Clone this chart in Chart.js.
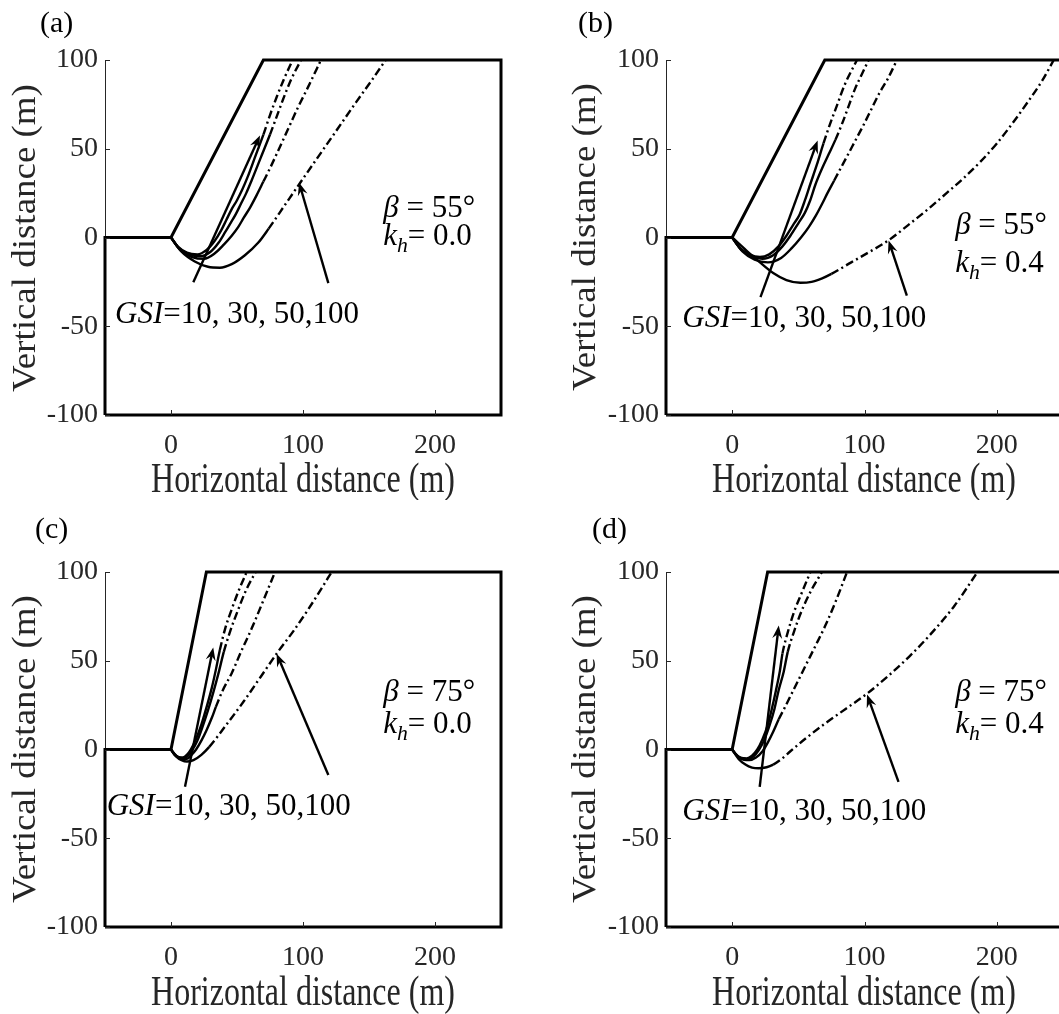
<!DOCTYPE html>
<html>
<head>
<meta charset="utf-8">
<script src="https://cdn.jsdelivr.net/npm/chart.js@4.4.1/dist/chart.umd.min.js"></script>
<style>
  html, body { margin: 0; padding: 0; overflow: hidden; background: #fff; }
  .panel { position: absolute; }
</style>
</head>
<body>
<div class="panel" style="left:0;top:0"><canvas id="ca"></canvas></div>
<div class="panel" style="left:530px;top:0"><canvas id="cb"></canvas></div>
<div class="panel" style="left:0;top:500px"><canvas id="cc"></canvas></div>
<div class="panel" style="left:530px;top:500px"><canvas id="cd"></canvas></div>
<script>
// ---- data (metres) ----
const panelNames = ['(a)', '(b)', '(c)', '(d)'];
const betaDeg = [55, 55, 75, 75];
const khValues = ['0.0', '0.4', '0.0', '0.4'];
const crestX = [70.0, 70.0, 26.8, 26.8];   // H / tan(beta), H = 100 m
const gsiValues = [10, 30, 50, 100];
const xTicks = [0, 100, 200];
const yTicks = [-100, -50, 0, 50, 100];

// slip surfaces: [x, y]
const slipA10 = [[0,0],[5,-5],[12,-8.5],[20,-9.5],[27,-7],[33,-2],[38,4],[42,10],[46,16],[50,21],[54,27],[58,34],[64,46],[70,58],[75,69],[80,79],[86,90],[92.2,100]];
const slipA30 = [[0,0],[6,-6],[14,-9.5],[22,-10.5],[30,-8],[36,-3],[41,3],[45,8],[49,13],[53,19],[57,25],[61,32],[68,45],[75,58],[80,68],[85,78],[91,89],[98.5,100]];
const slipA50 = [[0,0],[7,-7],[16,-11],[25,-12],[33,-9],[40,-4],[46,1],[51,6],[55,11],[60,17],[65,24],[70,31.5],[75,39],[80,47],[88,60],[96,73],[104,85],[113.6,100]];
const slipA100 = [[0,0],[8,-8],[18,-13.5],[28,-16.5],[37,-17],[46,-15],[56,-10],[66,-3],[74,5],[86,18],[98,31],[112,46],[126,61],[140,76],[152,88.5],[162.6,100]];

const slipB10 = [[0,0],[6,-6],[13,-9.5],[21,-11],[28,-9.5],[35,-5],[41,1],[46,7],[51,13],[55,21],[59,30],[64,41],[69,53],[74,64],[79,74],[85,86],[94.3,100]];
const slipB30 = [[0,0],[7,-7],[15,-10.5],[23,-12],[31,-10],[38,-5],[44,1],[50,8],[55,14],[59,21],[63,30],[68,39],[73,47],[78,55],[83,64],[88,74],[93,84],[98,92],[103.1,100]];
const slipB50 = [[0,0],[8,-8],[17,-12.5],[27,-14],[37,-11.5],[45,-6],[52,0],[58,6],[63,12],[68,19],[72,25],[77,32],[82,39],[87,46],[93,54.5],[99,63],[105,72],[111,81],[118,90],[124.5,100]];
const slipB100 = [[0,0],[11,-7.5],[21,-14],[31,-20],[41,-24],[51.5,-25.5],[60,-25],[68,-23],[75,-20.5],[90,-14],[104,-8],[118,-1.7],[133,7],[148,16],[162,25],[175,33.5],[188,43],[200,53],[212,64.5],[224,77],[234,88],[243,100]];

const slipC10 = [[0,0],[3,-3],[6,-4.3],[9,-4.5],[12,-3],[15,0],[19,6],[23,14],[27,24],[31,35],[34,45],[37,56],[41,68],[46,79],[51,89],[57.3,100]];
const slipC30 = [[0,0],[3,-3.2],[7,-4.8],[10,-5],[13,-3.5],[16,-0.5],[20,5],[24,13],[28,22],[32,32],[36,43],[40,55],[45,67],[51,79],[57,90],[64.1,100]];
const slipC50 = [[0,0],[4,-3.5],[8,-5.3],[12,-5.3],[15,-3.5],[19,0],[23,5],[27,11],[31,18],[34,24],[39,33],[46,43],[53,55],[61,68],[70,84],[78.8,100]];
const slipC100 = [[0,0],[4,-4],[8,-6],[12,-6.8],[17,-6],[23,-3],[29,1.5],[41,13],[55,27],[68,41],[81,55],[93,67],[104,79],[113,89.5],[121.7,100]];

const slipD10 = [[0,0],[3,-3],[7,-4.8],[11,-5],[15,-3.5],[19,0],[23,6],[27,14],[30,23],[33,33],[36,44],[38,54],[42,66],[47,78],[53,89],[59.1,100]];
const slipD30 = [[0,0],[4,-3.5],[8,-5.2],[12,-5.5],[16,-4],[20,-0.5],[24,5],[28,13],[32,23],[35,33],[39,44],[42,55],[47,67],[53,79],[60,90],[67.9,100]];
const slipD50 = [[0,0],[4,-3.8],[9,-5.8],[13,-6],[18,-4.5],[23,-1],[27,4],[31,10],[35.2,17],[40,24],[45.3,32],[50,39],[55.3,47],[63,58.5],[70.4,69.8],[78,83],[86.8,100]];
const slipD100 = [[0,0],[5,-5.5],[10,-8.5],[15,-10.2],[20,-10.6],[26,-10],[31,-8.5],[37,-5.5],[44,-1],[56,6.5],[70,14.5],[86,23],[102,31.5],[118,41.5],[134,52.5],[150,65],[168,81],[185.4,100]];

// x where each surface changes from solid to dash-dot
const breakA = [70, 75, 70, 74];
const breakB = [69, 78, 77, 75];
const breakC = [37, 40, 34, 29];
const breakD = [38, 42, 35.2, 31];

const slips = [
  [slipA10, slipA30, slipA50, slipA100],
  [slipB10, slipB30, slipB50, slipB100],
  [slipC10, slipC30, slipC50, slipC100],
  [slipD10, slipD30, slipD50, slipD100]
];
const breaks = [breakA, breakB, breakC, breakD];

// ---- layout / annotations ----
const SERIF = '"Liberation Serif", "Times New Roman", serif';
const xTitleText = 'Horizontal distance (m)';
const yTitleText = 'Vertical distance (m)';

const panels = [
  { id: 'ca', w: 530, h: 500, l: 105, r: 501, t: 60, b: 415,
    label: [40, 32], xTitle: [303, 492], yTitle: [35, 238],
    gsiAt: [-42.4, -48.3], betaAt: [160.8, 11.4], khAt: [160.8, -4.5],
    arrows: [[16.9, -25.2, 67.4, 57.5], [119.2, -25.7, 97, 31]] },
  { id: 'cb', w: 560, h: 500, l: 136, r: 533, t: 60, b: 415,
    label: [48, 32], xTitle: [334, 492], yTitle: [65, 237],
    gsiAt: [-37.7, -50.5], betaAt: [168.5, 2.1], khAt: [168.5, -19.5],
    arrows: [[21.4, -33.6, 64.6, 54.6], [132, -32.7, 118.2, -1.7]] },
  { id: 'cc', w: 530, h: 514, l: 105, r: 501, t: 72, b: 427,
    label: [35, 38], xTitle: [303, 505], yTitle: [35, 249],
    gsiAt: [-48.7, -37], betaAt: [160.8, 27.2], khAt: [160.8, 9.2],
    arrows: [[10.6, -21, 32, 57.5], [119.2, -14.4, 80, 54]] },
  { id: 'cd', w: 560, h: 514, l: 136, r: 533, t: 72, b: 427,
    label: [62, 38], xTitle: [334, 505], yTitle: [65, 249],
    gsiAt: [-37.7, -39.9], betaAt: [168.5, 27.2], khAt: [168.5, 9.2],
    arrows: [[20.8, -21, 35.2, 69.8], [125.7, -18.2, 101.9, 31]] }
];

function richText(ctx, parts, x, y, size) {
  let cx = x;
  ctx.textAlign = 'left';
  ctx.textBaseline = 'alphabetic';
  for (const p of parts) {
    const fs = p.sub ? size * 0.7 : size;
    ctx.font = (p.it ? 'italic ' : '') + fs + 'px ' + SERIF;
    ctx.fillText(p.t, cx, y + (p.sub ? size * 0.22 : 0));
    cx += ctx.measureText(p.t).width;
  }
}

function drawArrow(ctx, x0, y0, x1, y1) {
  const ang = Math.atan2(y1 - y0, x1 - x0);
  const L = 13, W = 5;
  ctx.beginPath();
  ctx.moveTo(x0, y0);
  ctx.lineTo(x1 - L * 0.6 * Math.cos(ang), y1 - L * 0.6 * Math.sin(ang));
  ctx.stroke();
  ctx.save();
  ctx.translate(x1, y1);
  ctx.rotate(ang);
  ctx.beginPath();
  ctx.moveTo(0, 0);
  ctx.lineTo(-L, -W);
  ctx.lineTo(-L * 0.65, 0);
  ctx.lineTo(-L, W);
  ctx.closePath();
  ctx.fill();
  ctx.restore();
}

function stretchedText(ctx, text, x, y, rot, sx, sy, size) {
  ctx.save();
  ctx.translate(x, y);
  ctx.rotate(rot);
  ctx.scale(sx, sy);
  ctx.font = size + 'px ' + SERIF;
  ctx.textAlign = 'center';
  ctx.textBaseline = 'alphabetic';
  ctx.fillText(text, 0, 0);
  ctx.restore();
}

// text, arrows and inward tick marks
const annotate = {
  id: 'annotate',
  afterDatasetsDraw(chart, args, o) {
    const { ctx, scales: { x, y }, chartArea: ca } = chart;
    const i = o.index, p = panels[i];
    ctx.save();

    // inward ticks
    ctx.strokeStyle = '#262626';
    ctx.lineWidth = 1;
    ctx.beginPath();
    xTicks.forEach(v => { const px = Math.round(x.getPixelForValue(v)) + 0.5; ctx.moveTo(px, ca.bottom); ctx.lineTo(px, ca.bottom - 5); });
    yTicks.forEach(v => { const py = Math.round(y.getPixelForValue(v)) + 0.5; ctx.moveTo(ca.left, py); ctx.lineTo(ca.left + 5, py); });
    ctx.stroke();

    // arrows
    ctx.strokeStyle = '#000';
    ctx.fillStyle = '#000';
    ctx.lineWidth = 2.4;
    p.arrows.forEach(a => drawArrow(ctx, x.getPixelForValue(a[0]), y.getPixelForValue(a[1]),
                                          x.getPixelForValue(a[2]), y.getPixelForValue(a[3])));

    // annotations
    richText(ctx, [{ t: 'GSI', it: true }, { t: '=' + gsiValues.slice(0, 3).join(', ') + ',' + gsiValues[3] }],
      x.getPixelForValue(p.gsiAt[0]), y.getPixelForValue(p.gsiAt[1]), 31);
    richText(ctx, [{ t: 'β', it: true }, { t: ' = ' + betaDeg[i] + '°' }],
      x.getPixelForValue(p.betaAt[0]), y.getPixelForValue(p.betaAt[1]), 31);
    richText(ctx, [{ t: 'k', it: true }, { t: 'h', it: true, sub: true }, { t: '= ' + khValues[i] }],
      x.getPixelForValue(p.khAt[0]), y.getPixelForValue(p.khAt[1]), 31);

    // panel letter
    richText(ctx, [{ t: panelNames[i] }], p.label[0], p.label[1], 30);

    // axis titles
    ctx.fillStyle = '#262626';
    stretchedText(ctx, xTitleText, p.xTitle[0], p.xTitle[1], 0, 1, 1.33, 32);
    stretchedText(ctx, yTitleText, p.yTitle[0], p.yTitle[1], -Math.PI / 2, 1.12, 1, 33);
    ctx.restore();
  }
};

function profile(cx) {
  return [[-50, -100], [-50, 0], [0, 0], [cx, 100], [250, 100], [250, -100], [-50, -100]]
    .map(([x, y]) => ({ x, y }));
}

panels.forEach((p, i) => {
  const canvas = document.getElementById(p.id);
  canvas.width = p.w;
  canvas.height = p.h;

  const datasets = [{
    data: profile(crestX[i]),
    borderColor: '#000', borderWidth: 3, pointRadius: 0, tension: 0, clip: false,
    borderJoinStyle: 'miter'
  }];
  slips[i].forEach((pts, k) => {
    const bx = breaks[i][k];
    datasets.push({
      label: 'GSI=' + gsiValues[k],
      data: pts.map(([x, y]) => ({ x, y })),
      borderColor: '#000', borderWidth: 2.4, pointRadius: 0,
      cubicInterpolationMode: 'monotone',
      segment: { borderDash: c => (pts[c.p0DataIndex][0] >= bx - 1e-6 ? [8, 3.5, 2, 3.5] : undefined) }
    });
  });

  const tickFont = { family: SERIF, size: 28 };
  new Chart(canvas, {
    type: 'line',
    data: { datasets },
    plugins: [annotate],
    options: {
      responsive: false,
      animation: false,
      events: [],
      layout: { padding: { left: 0, top: p.t, right: p.w - p.r, bottom: 0 } },
      plugins: {
        legend: { display: false },
        tooltip: { enabled: false },
        annotate: { index: i }
      },
      scales: {
        x: {
          type: 'linear', min: -50, max: 250,
          afterBuildTicks: s => { s.ticks = xTicks.map(v => ({ value: v })); },
          afterFit: s => { s.height = p.h - p.b; },
          grid: { display: false, drawTicks: false },
          border: { display: true, color: '#262626', width: 1 },
          ticks: { padding: 14, color: '#262626', font: tickFont, maxRotation: 0, autoSkip: false }
        },
        y: {
          type: 'linear', min: -100, max: 100,
          afterBuildTicks: s => { s.ticks = yTicks.map(v => ({ value: v })); },
          afterFit: s => { s.width = p.l; },
          grid: { display: false, drawTicks: false },
          border: { display: true, color: '#262626', width: 1 },
          ticks: { padding: 7, color: '#262626', font: tickFont }
        }
      }
    }
  });
});
</script>
</body>
</html>
